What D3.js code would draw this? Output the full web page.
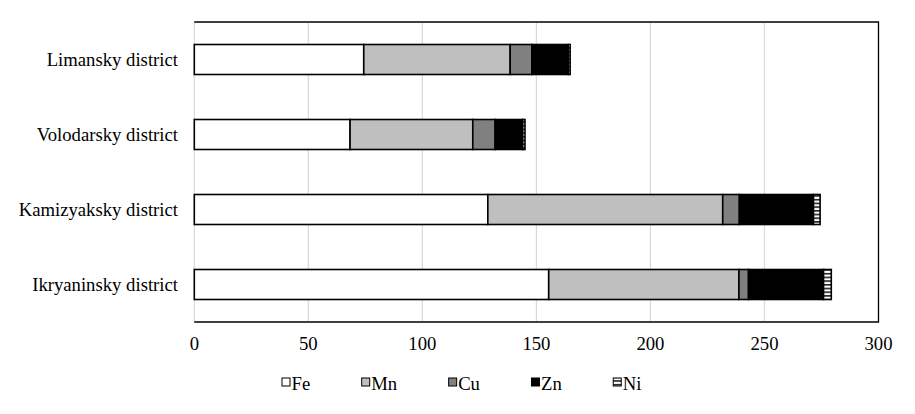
<!DOCTYPE html>
<html><head><meta charset="utf-8">
<script src="https://cdn.jsdelivr.net/npm/d3@7"></script>
<style>html,body{margin:0;padding:0;background:#fff;}svg{display:block;}</style>
</head><body>
<svg id="chart" width="915" height="414"></svg>
<script>
const categories = ["Limansky district", "Volodarsky district", "Kamizyaksky district", "Ikryaninsky district"];
const seriesNames = ["Fe", "Mn", "Cu", "Zn", "Ni"];
const fe = [74.3, 68.3, 128.7, 155.4];
const mn = [64.2, 53.8, 103.0, 83.4];
const cu = [9.5, 9.8, 7.3, 4.2];
const zn = [16.0, 12.1, 32.5, 32.9];
const ni = [0.8, 1.0, 2.9, 3.4];
const xTicks = [0, 50, 100, 150, 200, 250, 300];

const seriesValues = [fe, mn, cu, zn, ni];
const fills = ["#ffffff", "#bfbfbf", "#808080", "#000000", "url(#niPattern)"];

const svg = d3.select("#chart");
const font = "'Liberation Serif', 'Times New Roman', serif";
const fs = 18.7;
const m = {left: 194.3, right: 878.5, top: 22, bottom: 322};

const defs = svg.append("defs");
const pat = defs.append("pattern").attr("id", "niPattern")
  .attr("patternUnits", "userSpaceOnUse").attr("width", 8).attr("height", 3.7);
pat.append("rect").attr("width", 8).attr("height", 3.7).attr("fill", "#000");
pat.append("rect").attr("y", 0.6).attr("width", 8).attr("height", 2.3).attr("fill", "#fff");

const x = d3.scaleLinear().domain([0, 300]).range([m.left, m.right]);
const y = d3.scaleBand().domain(categories).range([m.top, m.bottom]).paddingInner(0.6).paddingOuter(0.3);

// gridlines
svg.append("g").selectAll("line").data(xTicks.slice(0, -1)).join("line")
  .attr("x1", d => x(d)).attr("x2", d => x(d))
  .attr("y1", m.top).attr("y2", m.bottom)
  .attr("stroke", "#d9d9d9").attr("stroke-width", 1.2);

// frame
svg.append("path")
  .attr("d", `M${m.left},${m.top}H${m.right}V${m.bottom}H${m.left}`)
  .attr("fill", "none").attr("stroke", "#000").attr("stroke-width", 1.3);

// stacked data
const table = categories.map((c, i) => {
  const o = {category: c};
  seriesNames.forEach((s, j) => o[s] = seriesValues[j][i]);
  return o;
});
const stacked = d3.stack().keys(seriesNames)(table);

svg.append("g").selectAll("g").data(stacked).join("g")
  .attr("fill", (d, i) => fills[i])
  .selectAll("rect").data(d => d).join("rect")
  .attr("x", d => x(d[0]))
  .attr("width", d => x(d[1]) - x(d[0]))
  .attr("y", d => y(d.data.category))
  .attr("height", y.bandwidth())
  .attr("stroke", "#000").attr("stroke-width", 1.6);

// x tick labels
svg.append("g").selectAll("text").data(xTicks).join("text")
  .attr("x", d => x(d)).attr("y", 350)
  .attr("text-anchor", "middle")
  .attr("font-family", font).attr("font-size", fs).attr("fill", "#000")
  .text(d => d);

// category labels
svg.append("g").selectAll("text").data(categories).join("text")
  .attr("x", 178).attr("y", d => y(d) + y.bandwidth() / 2 + 6.3)
  .attr("text-anchor", "end")
  .attr("font-family", font).attr("font-size", fs).attr("fill", "#000")
  .text(d => d);

// legend
const lg = svg.append("g");
let lx = 282;
seriesNames.forEach((s, i) => {
  lg.append("rect").attr("x", lx).attr("y", 378).attr("width", 8).attr("height", 8)
    .attr("fill", fills[i]).attr("stroke", "#000").attr("stroke-width", 1);
  const t = lg.append("text").attr("x", lx + 9.5).attr("y", 389.5)
    .attr("font-family", font).attr("font-size", fs).attr("fill", "#000").text(s);
  lx += 9.5 + t.node().getComputedTextLength() + 51.5;
});
</script>
</body></html>
